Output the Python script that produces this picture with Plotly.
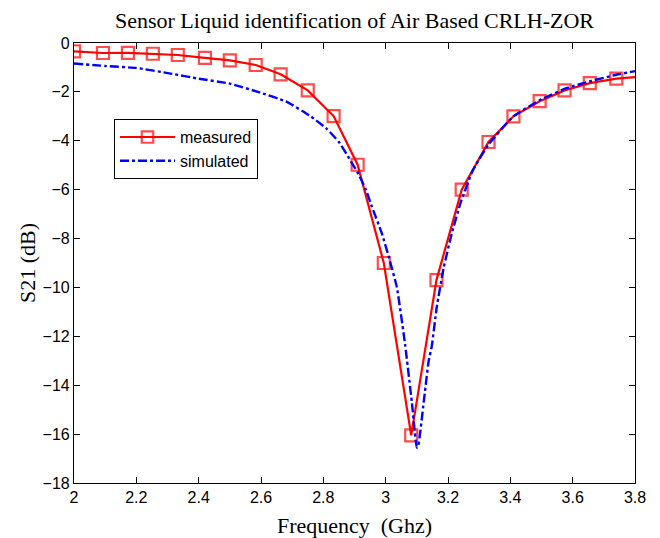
import plotly.graph_objects as go

# Measured S21 (GHz, dB)
meas_freq = [2.0, 2.093, 2.173, 2.253, 2.333, 2.42, 2.5, 2.583, 2.663, 2.75, 2.833,
             2.91, 2.994, 3.082, 3.163, 3.244, 3.33, 3.41, 3.494, 3.574, 3.655, 3.74, 3.8]
meas_s21 = [-0.34, -0.41, -0.40, -0.44, -0.49, -0.61, -0.71, -0.90, -1.28, -1.94, -2.99,
            -4.98, -9.0, -16.05, -9.7, -6.0, -4.05, -3.0, -2.38, -1.94, -1.64, -1.46, -1.40]
meas_marker = [1] * 22 + [0]

# Simulated S21 (GHz, dB)
sim_freq = [2.0, 2.1, 2.2, 2.31, 2.4, 2.5, 2.59, 2.68, 2.755, 2.81, 2.85, 2.89, 2.91,
            2.935, 2.956, 2.988, 3.01, 3.036, 3.063, 3.084, 3.1, 3.105, 3.122, 3.138,
            3.148, 3.164, 3.186, 3.212, 3.24, 3.28, 3.33, 3.41, 3.5, 3.58, 3.66, 3.74, 3.8]
sim_s21 = [-0.84, -0.94, -1.02, -1.25, -1.46, -1.66, -2.0, -2.39, -2.96, -3.5, -4.05,
           -4.87, -5.3, -5.95, -6.7, -7.8, -8.75, -10.0, -12.4, -14.7, -16.55, -16.45,
           -14.7, -13.0, -12.4, -10.8, -9.2, -7.8, -6.55, -5.2, -4.15, -3.0, -2.3, -1.85,
           -1.55, -1.3, -1.15]

x_ticks = [2, 2.2, 2.4, 2.6, 2.8, 3, 3.2, 3.4, 3.6, 3.8]
y_ticks = [0, -2, -4, -6, -8, -10, -12, -14, -16, -18]

SERIF = "Liberation Serif, Times New Roman, serif"
SANS = "Liberation Sans, Arial, sans-serif"

fig = go.Figure()
fig.add_trace(go.Scatter(
    x=meas_freq, y=meas_s21, name="measured", mode="lines+markers",
    line=dict(color="#ff0000", width=2.2),
    marker=dict(symbol="square-open", size=[12 * m for m in meas_marker],
                color="#ff0000", line=dict(width=2.2, color="#ff0000")),
))
fig.add_trace(go.Scatter(
    x=sim_freq, y=sim_s21, name="simulated", mode="lines",
    line=dict(color="#0000ff", width=2.4, dash="dashdot", shape="spline", smoothing=0.4),
))

axis_common = dict(showgrid=False, zeroline=False, showline=True, linecolor="black",
                   linewidth=1.2, mirror="ticks", ticks="inside", ticklen=6,
                   tickcolor="black",
                   tickfont=dict(family=SANS, size=16, color="black"))
fig.update_xaxes(range=[2, 3.8], tickvals=x_ticks, ticktext=[str(t) for t in x_ticks],
                 title=dict(text="Frequency  (Ghz)", standoff=13,
                            font=dict(family=SERIF, size=22, color="black")),
                 **axis_common)
fig.update_yaxes(range=[-18, 0], tickvals=y_ticks,
                 ticktext=[str(t).replace("-", "\u2212") for t in y_ticks],
                 title=dict(text="S21 (dB)", standoff=0,
                            font=dict(family=SERIF, size=22, color="black")),
                 **axis_common)

fig.update_layout(
    width=652, height=530,
    margin=dict(l=66, r=25, t=35, b=55, autoexpand=False),
    paper_bgcolor="white", plot_bgcolor="white",
    title=dict(text="Sensor Liquid identification of Air Based CRLH-ZOR",
               xref="paper", x=0.5, xanchor="center",
               yref="container", y=0.977, yanchor="middle",
               font=dict(family=SERIF, size=22, color="black")),
    legend=dict(x=0.0713, y=0.827, xanchor="left", yanchor="top",
                bordercolor="black", borderwidth=1, bgcolor="white",
                font=dict(family=SANS, size=16, color="black"),
                itemwidth=55, tracegroupgap=0),
    showlegend=True,
)

fig.write_html("out.html")
